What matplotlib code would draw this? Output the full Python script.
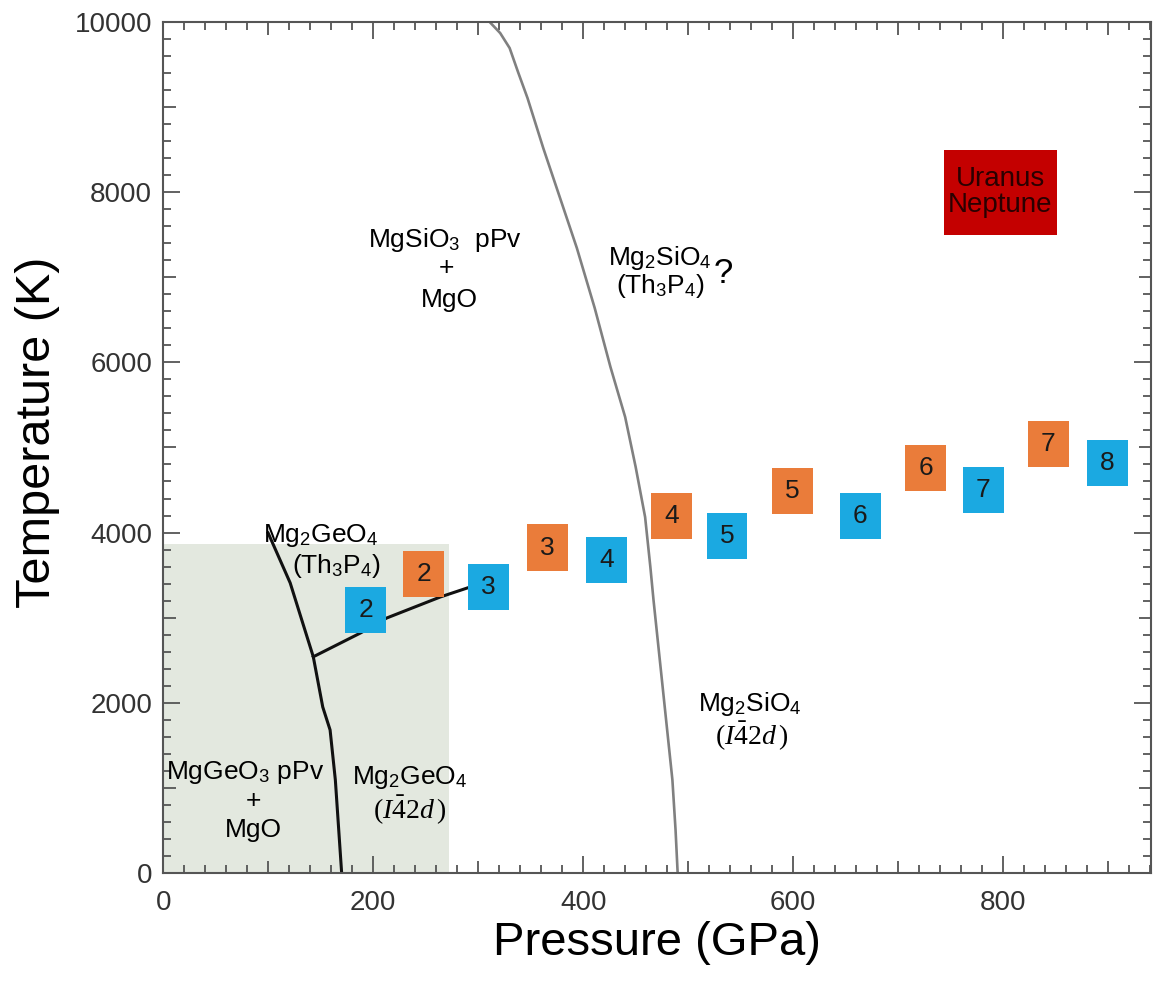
import matplotlib
matplotlib.use('Agg')
import matplotlib.pyplot as plt
from matplotlib.patches import Rectangle
from matplotlib.ticker import MultipleLocator

plt.rcParams['font.family'] = ['Liberation Sans', 'DejaVu Sans']
plt.rcParams['mathtext.fontset'] = 'custom'
plt.rcParams['mathtext.rm'] = 'Liberation Sans'
plt.rcParams['mathtext.it'] = 'Liberation Serif:italic'
plt.rcParams['mathtext.bf'] = 'Liberation Serif'

# phase boundary MgSiO3 pPv + MgO / Mg2SiO4 (gray)
si_p = [311, 321, 330, 338, 347, 362, 378, 394, 411, 426, 440, 450, 459, 464, 467, 470, 475, 480, 485, 488, 490]
si_t = [10000, 9870, 9694, 9412, 9107, 8519, 7932, 7344, 6639, 5946, 5358, 4771, 4183, 3596, 3208,
        2855, 2268, 1680, 1093, 505, 0]

# Mg2GeO4 boundaries (black)
ge_p = [100, 121, 143, 152, 159, 164, 170]
ge_t = [3995, 3408, 2540, 1950, 1680, 1093, 0]
ge_branch_p = [143, 188, 213, 264, 290]
ge_branch_t = [2540, 2820, 2996, 3243, 3350]

# experiment markers (number, pressure, temperature)
orange_n = ['2', '3', '4', '5', '6', '7']
orange_p = [248, 366, 484, 599, 726, 843]
orange_t = [3513, 3820, 4195, 4489, 4759, 5041]
blue_n = ['2', '3', '4', '5', '6', '7', '8']
blue_p = [193, 310, 422, 537, 664, 781, 899]
blue_t = [3090, 3360, 3677, 3960, 4195, 4500, 4818]

fig = plt.figure(figsize=(11.57, 9.83), dpi=100)
ax = fig.add_axes([0.141, 0.112, 0.854, 0.8656])

# shaded Mg2GeO4 region
ax.add_patch(Rectangle((0, 0), 272, 3870, facecolor='#e3e8df', edgecolor='none', zorder=0))

ax.plot(si_p, si_t, color='#808080', lw=1.9, zorder=2)
ax.plot(ge_p, ge_t, color='#111111', lw=2.2, zorder=2)
ax.plot(ge_branch_p, ge_branch_t, color='#111111', lw=2.2, zorder=2)

w, h = 39, 550
for n, p, t in zip(orange_n, orange_p, orange_t):
    ax.add_patch(Rectangle((p - w / 2, t - h / 2), w, h, facecolor='#ea7c3a', edgecolor='none', zorder=3))
    ax.text(p, t, n, ha='center', va='center', fontsize=19, color='#1a1a1a', zorder=4)
for n, p, t in zip(blue_n, blue_p, blue_t):
    ax.add_patch(Rectangle((p - w / 2, t - h / 2), w, h, facecolor='#1ba9e1', edgecolor='none', zorder=3))
    ax.text(p, t, n, ha='center', va='center', fontsize=19, color='#1a1a1a', zorder=4)

# Uranus / Neptune box
ax.add_patch(Rectangle((744, 7500), 107, 1000, facecolor='#c40000', edgecolor='none', zorder=3))
ax.text(797, 8000, 'Uranus\nNeptune', ha='center', va='center', fontsize=20,
        color='#2a0000', linespacing=1.0, zorder=4)

fs = 19
ax.text(268, 7440, r'MgSiO$_3$  pPv', ha='center', va='center', fontsize=fs)
ax.text(270, 7110, '+', ha='center', va='center', fontsize=fs)
ax.text(273, 6730, 'MgO', ha='center', va='center', fontsize=fs)

ax.text(473, 7230, r'Mg$_2$SiO$_4$', ha='center', va='center', fontsize=fs)
ax.text(473, 6900, r'(Th$_3$P$_4$)', ha='center', va='center', fontsize=fs)
ax.text(533, 7040, '?', ha='center', va='center', fontsize=25)

ax.text(150, 3960, r'Mg$_2$GeO$_4$', ha='center', va='center', fontsize=fs)
ax.text(165, 3610, r'(Th$_3$P$_4$)', ha='center', va='center', fontsize=fs)

ax.text(78, 1175, r'MgGeO$_3$ pPv', ha='center', va='center', fontsize=fs)
ax.text(86, 846, '+', ha='center', va='center', fontsize=fs)
ax.text(86, 505, 'MgO', ha='center', va='center', fontsize=fs)

i42d = r'$\mathbf{(}I\bar{\mathbf{4}}\mathbf{2}d\,\mathbf{)}$'
ax.text(235, 1120, r'Mg$_2$GeO$_4$', ha='center', va='center', fontsize=fs)
ax.text(235, 735, i42d, ha='center', va='center', fontsize=20)
ax.text(559, 1990, r'Mg$_2$SiO$_4$', ha='center', va='center', fontsize=fs)
ax.text(561, 1600, i42d, ha='center', va='center', fontsize=20)

ax.set_xlim(0, 941)
ax.set_ylim(0, 10000)
ax.xaxis.set_major_locator(MultipleLocator(200))
ax.xaxis.set_minor_locator(MultipleLocator(20))
ax.yaxis.set_major_locator(MultipleLocator(2000))
ax.yaxis.set_minor_locator(MultipleLocator(200))
ax.tick_params(which='both', direction='in', top=True, right=True, color='#555555', width=1.3)
ax.tick_params(which='major', length=12, labelsize=20, labelcolor='#333333')
ax.tick_params(axis='x', which='major', pad=12)
ax.tick_params(axis='y', which='major', pad=8)
ax.tick_params(which='minor', length=6)

# medium ticks every 100 GPa / 1000 K
for loc, tk in zip(ax.xaxis.get_minorticklocs(), ax.xaxis.get_minor_ticks()):
    if abs(loc % 100) < 1e-6:
        tk.tick1line.set_markersize(9)
        tk.tick2line.set_markersize(9)
for loc, tk in zip(ax.yaxis.get_minorticklocs(), ax.yaxis.get_minor_ticks()):
    if abs(loc % 1000) < 1e-6:
        tk.tick1line.set_markersize(9)
        tk.tick2line.set_markersize(9)

for s in ax.spines.values():
    s.set_color('#555555')
    s.set_linewidth(1.5)

ax.set_xlabel('Pressure (GPa)', fontsize=34, labelpad=4)
ax.set_ylabel('Temperature (K)', fontsize=35)
ax.yaxis.set_label_coords(-0.104, 0.518)

fig.savefig('out.png', dpi=100)
